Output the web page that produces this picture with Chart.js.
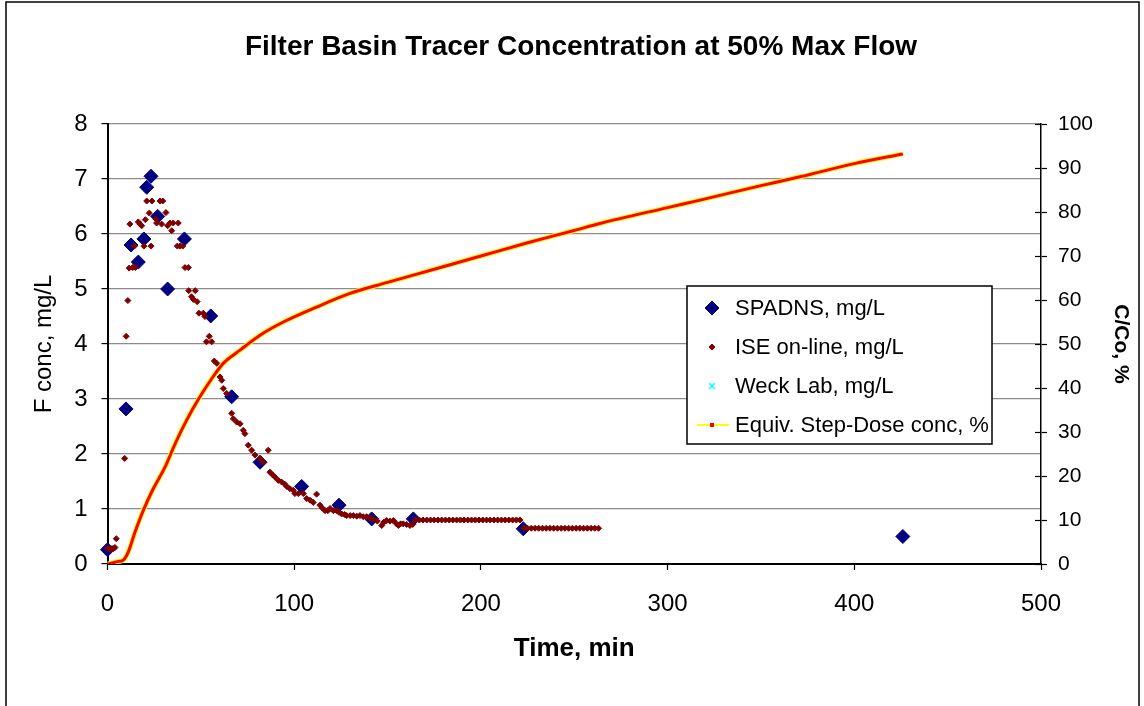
<!DOCTYPE html>
<html>
<head>
<meta charset="utf-8">
<script src="https://cdn.jsdelivr.net/npm/chart.js@4.4.0/dist/chart.umd.min.js"></script>
<style>
  html, body { margin: 0; padding: 0; background: #fff; }
  canvas { display: block; }
</style>
</head>
<body>
<canvas id="tracerChart" width="1144" height="706"></canvas>
<script>
// SPADNS grab samples, mg/L
const spadnsTime = [0, 9.9, 12.6, 16.5, 19.5, 21, 23.3, 26.9, 32.2, 41.2, 55.3, 66.5, 81.7, 104, 124, 141.5, 163.8, 222.7, 426];
const spadnsConc = [0.26, 2.82, 5.80, 5.49, 5.91, 6.85, 7.05, 6.32, 5.00, 5.91, 4.51, 3.04, 1.85, 1.41, 1.07, 0.82, 0.82, 0.64, 0.50];

// ISE on-line probe, mg/L
const iseTime = [0, 0.8, 1.6, 2.4, 3.2, 4.0, 4.7, 9.2, 10.0, 10.9, 11.6, 12.0, 13.5, 14.4, 15.0, 16.5, 17.4, 18.3, 19.5, 20.3,
  21.0, 22.4, 23.3, 23.8, 26.0, 26.3, 28.1, 29.0, 29.6, 31.3, 32.2, 33.5, 34.4, 35.2, 37.4, 37.9, 38.8, 40.3, 41.5, 43.3,
  43.5, 45.0, 46.0, 47.0, 48.0, 49.0, 51.3, 52.2, 53.0, 54.5, 55.8, 57.2, 58.5, 60.3, 61.2, 62.0, 63.8, 66.5, 67.4, 69.2,
  71.0, 72.7, 73.6, 75.4, 77.2, 79.0, 81.7, 83.4, 86.1, 87.0, 88.5, 89.7, 91.5, 93.3, 95.0, 96.0, 97.7, 99.5, 100.4, 102.2,
  104.9, 106.7, 108.5, 110.2, 112.0, 113.8, 115.0, 116.5, 118.0, 119.2, 121.0, 122.8, 124.0, 125.4, 127.0, 128.1, 130.0, 131.7, 133.5, 135.2,
  137.0, 138.8, 140.5, 142.4, 144.5, 146.9, 148.0, 149.5, 151.3, 153.1, 154.5, 155.8, 157.0, 158.4, 160.2, 162.0, 163.5,
  165, 167, 169, 171, 173, 175, 177, 179, 181, 183, 185, 187, 189, 191, 193, 195, 197, 199, 201, 203,
  205, 207, 209, 211, 213, 215, 217, 219, 221,
  223, 225, 227, 229, 231, 233, 235, 237, 239, 241, 243, 245, 247, 249, 251, 253, 255, 257, 259, 261, 263];
const iseConc = [0.28, 0.28, 0.27, 0.28, 0.28, 0.30, 0.46, 1.92, 4.14, 4.79, 5.38, 6.18, 5.39, 5.78, 5.39, 6.22, 6.18, 6.15, 5.78, 6.26,
  6.60, 6.38, 5.78, 6.60, 6.27, 6.20, 6.60, 6.18, 6.60, 6.39, 6.15, 6.20, 6.06, 6.20, 5.78, 6.20, 5.78, 5.78, 5.39, 5.39,
  4.97, 4.86, 4.81, 4.97, 4.77, 4.56, 4.56, 4.50, 4.04, 4.14, 4.04, 3.69, 3.65, 3.40, 3.34, 3.19, 3.10, 2.74, 2.64, 2.58,
  2.55, 2.43, 2.37, 2.16, 2.07, 1.98, 1.92, 1.85, 2.07, 1.67, 1.62, 1.58, 1.52, 1.49, 1.45, 1.41, 1.37, 1.34, 1.28, 1.28,
  1.28, 1.19, 1.16, 1.12, 1.27, 1.07, 1.02, 0.97, 0.97, 1.01, 0.97, 0.97, 0.94, 0.91, 0.90, 0.88, 0.88, 0.88, 0.87, 0.88,
  0.86, 0.86, 0.84, 0.82, 0.78, 0.70, 0.76, 0.79, 0.78, 0.79, 0.74, 0.70, 0.73, 0.73, 0.72, 0.70, 0.72,
  0.80, 0.80, 0.80, 0.80, 0.80, 0.80, 0.80, 0.80, 0.80, 0.80, 0.80, 0.80, 0.80, 0.80, 0.80, 0.80, 0.80, 0.80, 0.80, 0.80,
  0.80, 0.80, 0.80, 0.80, 0.80, 0.80, 0.80, 0.80, 0.80,
  0.65, 0.65, 0.65, 0.65, 0.65, 0.65, 0.65, 0.65, 0.65, 0.65, 0.65, 0.65, 0.65, 0.65, 0.65, 0.65, 0.65, 0.65, 0.65, 0.65, 0.65];

// Weck Lab samples (none plotted in this run)
const weckTime = [];
const weckConc = [];

// Equivalent step-dose concentration, % of Co (right axis)
const stepTime = [0, 3, 6, 8.5, 11.1, 14.7, 19.2, 24.5, 30.8, 36.2, 42.4, 49.5, 55.8, 62, 71, 81.7, 94.2, 112, 129.9,
  150, 175, 200, 225, 250, 263.8, 300, 317.4, 350, 370.9, 400, 426];
const stepPct = [0, 0.3, 0.6, 0.9, 2.7, 7.2, 12.2, 17.1, 22.0, 27.3, 32.7, 38.0, 42.1, 45.6, 48.6, 52.0, 55.0, 58.4, 61.5,
  64.0, 67.0, 70.0, 73.0, 75.8, 77.4, 81.0, 82.7, 86.0, 88.0, 91.0, 93.2];

const xTicks = [0, 100, 200, 300, 400, 500];

const seriesNames = ["SPADNS, mg/L", "ISE on-line, mg/L", "Weck Lab, mg/L", "Equiv. Step-Dose conc, %"];

function pairs(xs, ys) {
  return xs.map((x, i) => ({ x: x, y: ys[i] }));
}

const FONT = "'Liberation Sans', Arial, sans-serif";

const framePlugin = {
  id: 'frame',
  beforeDraw(chart) {
    const c = chart.ctx;
    c.save();
    c.fillStyle = '#fff';
    c.fillRect(0, 0, chart.width, chart.height);
    c.restore();
  },
  afterDraw(chart) {
    const c = chart.ctx;
    c.save();
    // outer frame
    c.strokeStyle = '#000';
    c.lineWidth = 1.5;
    c.strokeRect(6, 2, 1133, 740);

    // right axis ticks cross the axis line
    const r = chart.scales.y1;
    c.lineWidth = 1.2;
    r.ticks.forEach(t => {
      const y = Math.round(r.getPixelForValue(t.value)) + 0.5;
      c.beginPath();
      c.moveTo(r.left - 6, y);
      c.lineTo(r.left, y);
      c.stroke();
    });

    // legend box
    const bx = 687, by = 286, bw = 305, bh = 158;
    c.fillStyle = '#fff';
    c.fillRect(bx, by, bw, bh);
    c.lineWidth = 1.5;
    c.strokeStyle = '#000';
    c.strokeRect(bx, by, bw, bh);

    c.font = '22px ' + FONT;
    c.textBaseline = 'middle';
    c.textAlign = 'left';
    const ix = 712, tx = 735;
    seriesNames.forEach((name, i) => {
      const y = by + 22 + i * 39;
      const ds = chart.data.datasets[i];
      if (i === 3) {
        c.strokeStyle = '#ffff00';
        c.lineWidth = 2;
        c.beginPath();
        c.moveTo(697, y);
        c.lineTo(729, y);
        c.stroke();
        c.fillStyle = '#ff0000';
        c.fillRect(ix - 2, y - 2, 4, 4);
      } else {
        c.fillStyle = ds.pointBackgroundColor;
        c.strokeStyle = ds.pointBorderColor;
        c.lineWidth = ds.pointBorderWidth;
        Chart.helpers.drawPoint(c, {
          pointStyle: ds.pointStyle,
          radius: ds.legendRadius,
          rotation: 0,
          borderWidth: ds.pointBorderWidth
        }, ix, y);
      }
      c.fillStyle = '#000';
      c.fillText(name, tx, y + 1);
    });
    c.restore();
  }
};

const ctx = document.getElementById('tracerChart').getContext('2d');

new Chart(ctx, {
  type: 'scatter',
  data: {
    datasets: [
      {
        label: seriesNames[0],
        data: pairs(spadnsTime, spadnsConc),
        yAxisID: 'y',
        pointStyle: 'rectRot',
        pointRadius: 7,
        legendRadius: 7,
        pointBackgroundColor: '#000080',
        pointBorderColor: '#000080',
        pointBorderWidth: 1,
        showLine: false,
        clip: 12,
        order: 4
      },
      {
        label: seriesNames[1],
        data: pairs(iseTime, iseConc),
        yAxisID: 'y',
        pointStyle: 'rectRot',
        pointRadius: 3,
        legendRadius: 3,
        pointBackgroundColor: '#800000',
        pointBorderColor: '#800000',
        pointBorderWidth: 1,
        showLine: false,
        clip: 12,
        order: 3
      },
      {
        label: seriesNames[2],
        data: pairs(weckTime, weckConc),
        yAxisID: 'y',
        pointStyle: 'crossRot',
        pointRadius: 4,
        legendRadius: 4,
        pointBackgroundColor: '#00ffff',
        pointBorderColor: '#00ffff',
        pointBorderWidth: 1.5,
        showLine: false,
        order: 2
      },
      {
        label: seriesNames[3],
        data: pairs(stepTime, stepPct),
        yAxisID: 'y1',
        showLine: true,
        borderColor: '#ffff00',
        borderWidth: 5,
        pointRadius: 0,
        cubicInterpolationMode: 'monotone',
        order: 1
      },
      {
        label: 'step-red',
        data: pairs(stepTime, stepPct),
        yAxisID: 'y1',
        showLine: true,
        borderColor: '#ff0000',
        borderWidth: 3,
        pointRadius: 0,
        cubicInterpolationMode: 'monotone',
        order: 0
      }
    ]
  },
  options: {
    responsive: false,
    animation: false,
    events: [],
    layout: { padding: { left: 18, right: 0, top: 0, bottom: 0 } },
    plugins: {
      legend: { display: false },
      tooltip: { enabled: false },
      title: {
        display: true,
        text: 'Filter Basin Tracer Concentration at 50% Max Flow',
        color: '#000',
        font: { family: FONT, size: 28, weight: 'bold', lineHeight: 1.2 },
        padding: { top: 30, bottom: 60.4 }
      }
    },
    scales: {
      x: {
        type: 'linear',
        min: 0,
        max: 500,
        afterBuildTicks: s => { s.ticks = xTicks.map(v => ({ value: v })); },
        afterFit: s => { s.height = 142; },
        grid: { drawOnChartArea: false, drawTicks: true, tickLength: 6, tickColor: '#000', tickWidth: 1.2 },
        border: { display: true, color: '#000', width: 2 },
        ticks: { color: '#000', padding: 20, font: { family: FONT, size: 24 }, maxRotation: 0 },
        title: {
          display: true,
          text: 'Time, min',
          color: '#000',
          font: { family: FONT, size: 26, weight: 'bold', lineHeight: 1.2 },
          padding: { top: 0, bottom: 42 }
        }
      },
      y: {
        type: 'linear',
        position: 'left',
        min: 0,
        max: 8,
        afterFit: s => { s.width = 89.5; },
        grid: { color: '#8c8c8c', lineWidth: 1.2, drawTicks: true, tickLength: 6, tickColor: '#000', tickWidth: 1.2 },
        border: { display: true, color: '#000', width: 2 },
        ticks: { stepSize: 1, color: '#000', padding: 14, font: { family: FONT, size: 24 } },
        title: {
          display: true,
          text: 'F conc, mg/L',
          color: '#000',
          font: { family: FONT, size: 24, lineHeight: 1.2 },
          padding: { top: 12, bottom: 0 }
        }
      },
      y1: {
        type: 'linear',
        position: 'right',
        min: 0,
        max: 100,
        afterFit: s => { s.width = 103; },
        grid: { drawOnChartArea: false, drawTicks: true, tickLength: 6, tickColor: '#000', tickWidth: 1.2 },
        border: { display: true, color: '#000', width: 1.5 },
        ticks: { stepSize: 10, color: '#000', padding: 11, font: { family: FONT, size: 21 } },
        title: {
          display: true,
          text: 'C/Co, %',
          color: '#000',
          font: { family: FONT, size: 21, weight: 'bold', lineHeight: 1.2 },
          padding: { top: 11, bottom: 0 }
        }
      }
    }
  },
  plugins: [framePlugin]
});
</script>
</body>
</html>
